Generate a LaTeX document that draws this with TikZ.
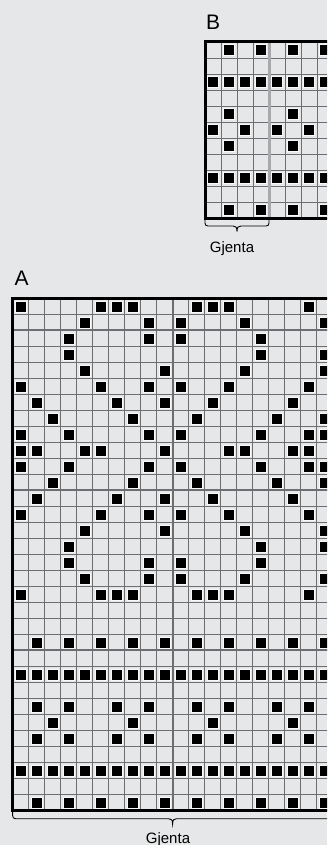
\documentclass[tikz,border=0pt]{standalone}
\usepackage{fontspec}
\setmainfont{Liberation Sans}
\definecolor{bg}{HTML}{E6E7E8}
\definecolor{gridc}{HTML}{6D6E71}
\definecolor{repc}{HTML}{A7A9AC}
\begin{document}
\begin{tikzpicture}[x=1pt,y=-1pt,
  gridline/.style={draw=gridc,line width=0.9pt},
  tenline/.style={draw=gridc,line width=2pt},
  repline/.style={draw=repc,line width=3pt},
  border/.style={draw=black,line width=3pt},
  stitch/.style={fill=black,draw=white!70!bg,line width=0.7pt},
  bline/.style={draw=black,line width=0.9pt},
  chartlabel/.style={font=\fontsize{21}{25}\selectfont,inner sep=0pt,anchor=base west},
  note/.style={font=\fontsize{15}{18}\selectfont,inner sep=0pt,anchor=base}]
\useasboundingbox (0,0) rectangle (327,845);
\fill[bg] (0,0) rectangle (327,845);
\clip (0,0) rectangle (327,845);

% ---------------- Chart B ----------------
\def\xB{205}\def\yB{42}
\foreach \i in {0,...,8} \draw[gridline] (\xB+16*\i,\yB) -- (\xB+16*\i,\yB+176);
\foreach \j in {0,...,11} \draw[gridline] (\xB,\yB+16*\j) -- (\xB+128,\yB+16*\j);
\draw[repline] (\xB+64,\yB) -- (\xB+64,\yB+176);
\foreach \r/\cs in {1/{2,4,6,8},3/{1,...,8},5/{2,6},6/{1,3,5,7},7/{2,6},9/{1,...,8},11/{2,4,6,8}}
  \foreach \c in \cs
    \filldraw[stitch] (\xB+16*\c-13.5,\yB+16*\r-13.5) rectangle ++(11,11);
\draw[border] (\xB,\yB) rectangle (\xB+128,\yB+176);
\draw[bline] (205,219) -- (205,223) .. controls (205,225) and (206,226) .. (208,226)
  -- (233,226) .. controls (235.5,226) and (237,227) .. (237,231.5)
  .. controls (237,227) and (238.5,226) .. (241,226)
  -- (266,226) .. controls (268,226) and (269,225) .. (269,223) -- (269,219);
\node[chartlabel] (labB) at (206,30) {B};
\node[note] (repB) at (232,252) {Gjenta};

% ---------------- Chart A ----------------
\def\xA{12.6}\def\yA{298.4}
\foreach \i in {0,...,20} \draw[gridline] (\xA+16*\i,\yA) -- (\xA+16*\i,\yA+512);
\foreach \j in {0,...,32} \draw[gridline] (\xA,\yA+16*\j) -- (\xA+320,\yA+16*\j);
\draw[tenline] (\xA+160,\yA) -- (\xA+160,\yA+512);
\foreach \j in {2,12,22} \draw[tenline] (\xA,\yA+16*\j) -- (\xA+320,\yA+16*\j);
\foreach \r/\cs in {
  1/{1,6,7,8,12,13,14,19},
  2/{5,9,11,15,20},
  3/{4,9,11,16},
  4/{4,16,20},
  5/{5,10,15,20},
  6/{1,6,9,11,14,19},
  7/{2,7,10,13,18},
  8/{3,8,12,17,20},
  9/{1,4,9,11,16,19,20},
  10/{1,2,5,6,10,14,15,18,19},
  11/{1,4,9,11,16,19,20},
  12/{3,8,12,17,20},
  13/{2,7,10,13,18},
  14/{1,6,9,11,14,19},
  15/{5,10,15,20},
  16/{4,16,20},
  17/{4,9,11,16},
  18/{5,9,11,15,20},
  19/{1,6,7,8,12,13,14,19},
  22/{2,4,6,8,10,12,14,16,18,20},
  24/{1,...,20},
  26/{2,4,7,9,12,14,17,19},
  27/{3,8,13,18},
  28/{2,4,7,9,12,14,17,19},
  30/{1,...,20},
  32/{2,4,6,8,10,12,14,16,18,20}}
  \foreach \c in \cs
    \filldraw[stitch] (\xA+16*\c-13.5,\yA+16*\r-13.5) rectangle ++(11,11);
\draw[border] (\xA,\yA) rectangle (\xA+320,\yA+512);
\draw[bline] (12.6,811) -- (12.6,815.5) .. controls (12.6,817.5) and (13.6,818.7) .. (15.6,818.7)
  -- (168.6,818.7) .. controls (171.1,818.7) and (172.6,819.7) .. (172.6,824)
  .. controls (172.6,819.7) and (174.1,818.7) .. (176.6,818.7)
  -- (329.6,818.7) .. controls (331.6,818.7) and (332.6,817.5) .. (332.6,815.5) -- (332.6,811);
\node[chartlabel] (labA) at (14.5,285) {A};
\node[note] (repA) at (168,843) {Gjenta};
\end{tikzpicture}
\end{document}
